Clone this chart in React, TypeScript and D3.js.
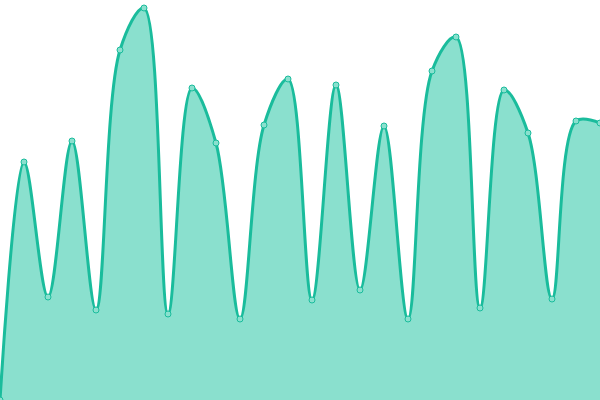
import * as d3 from "d3";

const labels = d3.range(26).map((i) => `P${i + 1}`);
const values = [
  0, 238, 103, 259, 90, 350, 392, 86, 312, 257, 81, 275, 321,
  100, 315, 110, 274, 81, 329, 363, 92, 310, 267, 101, 279, 277,
];

const width = 600;
const height = 400;
const stroke = "#1abc9c";
const fill = "#8ae0ce";

export default function App() {
  const x = d3
    .scalePoint<string>()
    .domain(labels)
    .range([0, width]);
  const y = d3.scaleLinear().domain([0, 400]).range([height, 0]);

  const data = labels.map((l, i) => ({ label: l, value: values[i] }));
  const curve = d3.curveCatmullRom.alpha(0.5);

  const area = d3
    .area<{ label: string; value: number }>()
    .x((d) => x(d.label)!)
    .y0(y(0))
    .y1((d) => y(d.value))
    .curve(curve);

  const line = d3
    .line<{ label: string; value: number }>()
    .x((d) => x(d.label)!)
    .y((d) => y(d.value))
    .curve(curve);

  return (
    <svg
      width={width}
      height={height}
      style={{ position: "absolute", left: 0, top: 0, display: "block" }}
    >
      <path d={area(data) ?? ""} fill={fill} />
      <path d={line(data) ?? ""} fill="none" stroke={stroke} strokeWidth={3} />
      {data.map((d) => (
        <circle
          key={d.label}
          cx={x(d.label)}
          cy={y(d.value)}
          r={3}
          fill={fill}
          stroke={stroke}
          strokeWidth={1}
        />
      ))}
    </svg>
  );
}
